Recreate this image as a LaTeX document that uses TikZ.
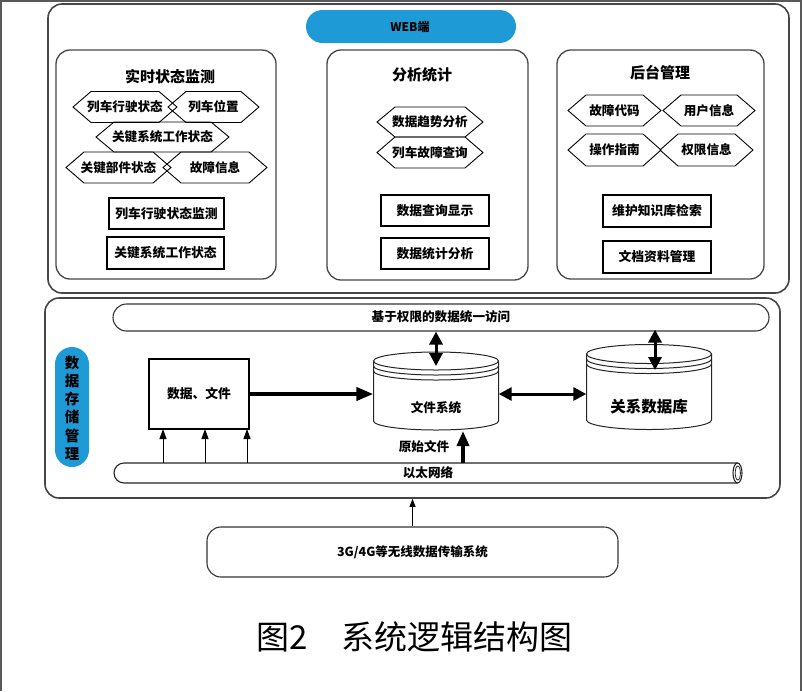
\documentclass[tikz,border=0pt]{standalone}
\usepackage{fontspec}
\setmainfont{Noto Sans CJK SC}
\usetikzlibrary{arrows.meta}
\definecolor{pillblue}{RGB}{30,155,214}
\definecolor{edge}{RGB}{70,70,70}
\tikzset{
  bigbox/.style={draw=edge, line width=1.6pt, rounded corners=14pt, inner sep=0pt},
  subbox/.style={draw=edge, line width=1.3pt, rounded corners=14pt, inner sep=0pt},
  rbox/.style={draw=black, line width=1.1pt, inner sep=0pt, font=\fontsize{12.8}{15}\selectfont\bfseries},
  hexline/.style={draw=black, line width=0.9pt},
  lbl/.style={font=\fontsize{12.6}{15}\selectfont\bfseries, inner sep=0pt},
  ttl/.style={font=\fontsize{15}{18}\selectfont\bfseries, inner sep=0pt},
  pill/.style={fill=pillblue, draw=none, inner sep=0pt},
  ghost/.style={inner sep=0pt, draw=none},
  cylline/.style={draw=black!85, line width=1pt},
  thinarrow/.style={draw=black, line width=1pt, -{Triangle[length=10pt,width=7pt]}},
  fatarrow/.style={draw=black, line width=4pt, -{Triangle[length=17pt,width=13pt]}},
  dblarrow/.style={draw=black, line width=3pt, {Triangle[length=13pt,width=13pt]}-{Triangle[length=13pt,width=13pt]}},
}
\newcommand\hexnode[6]{%
  \draw[hexline] (#2-#4,#3) -- (#2-#4+18,#3-#5) -- (#2+#4-18,#3-#5) -- (#2+#4,#3)
    -- (#2+#4-18,#3+#5) -- (#2-#4+18,#3+#5) -- cycle;
  \node[lbl] (#1) at (#2,#3) {#6};}
\newcommand\cylshape[4]{% cx, top centre y, bottom centre y, ry
  \fill[white] (#1-62.5,#2) -- (#1-62.5,#3) arc (180:0:62.5 and #4) -- (#1+62.5,#2) arc (0:180:62.5 and #4) -- cycle;
  \draw[cylline] (#1-62.5,#2) -- (#1-62.5,#3) arc (180:0:62.5 and #4) -- (#1+62.5,#2);
  \draw[cylline] (#1,#2) ellipse (62.5 and #4);
  \draw[cylline] (#1-62.5,#2+5) arc (180:0:62.5 and #4);
  \draw[cylline] (#1-62.5,#2+10) arc (180:0:62.5 and #4);}
\begin{document}
\begin{tikzpicture}[x=1pt,y=-1pt]
\useasboundingbox (0,0) rectangle (802,691);
\fill[white] (0,0) rectangle (802,691);
\draw[line width=2pt, black!65] (1,691) -- (1,1) -- (801,1) -- (801,691);

% ---------- WEB part ----------
\node[bigbox, minimum width=741pt, minimum height=289pt] (web) at (418.5,148.5) {};
\node[pill, rounded corners=16.5pt, minimum width=210pt, minimum height=33pt] (webpill) at (411,26.5) {};
\node[lbl, font=\fontsize{12}{14}\selectfont\bfseries] (webtxt) at (410,26.5) {WEB端};

\node[subbox, minimum width=220pt, minimum height=229pt] (b1) at (166,164.5) {};
\node[subbox, minimum width=201pt, minimum height=230pt] (b2) at (427.5,165) {};
\node[subbox, minimum width=207pt, minimum height=229pt] (b3) at (660.5,164.5) {};

\node[ttl] (t1) at (170,77) {实时状态监测};
\node[ttl] (t2) at (422,75) {分析统计};
\node[ttl] (t3) at (660,73) {后台管理};

\hexnode{h1}{125}{107}{52}{15.5}{列车行驶状态}
\hexnode{h2}{213.5}{107}{45.5}{15.5}{列车位置}
\hexnode{h3}{162.5}{137}{66.5}{15}{关键系统工作状态}
\hexnode{h4}{118.5}{167.5}{52.5}{15.5}{关键部件状态}
\hexnode{h5}{215}{167.5}{52}{15.5}{故障信息}

\hexnode{h6}{430}{122}{53}{15}{数据趋势分析}
\hexnode{h7}{430}{152.5}{53}{15.5}{列车故障查询}

\hexnode{h8}{614.5}{110.5}{46.5}{15.5}{故障代码}
\hexnode{h9}{709}{110.5}{46}{15.5}{用户信息}
\hexnode{h10}{614.5}{150}{46.5}{16}{操作指南}
\hexnode{h11}{706.5}{150}{46.5}{16}{权限信息}

\node[rbox, minimum width=115pt, minimum height=31pt] (r1) at (166.5,213.5) {列车行驶状态监测};
\node[rbox, minimum width=117pt, minimum height=32pt] (r2) at (165.5,253) {关键系统工作状态};
\node[rbox, minimum width=108pt, minimum height=31pt] (r3) at (435,210.5) {数据查询显示};
\node[rbox, minimum width=108pt, minimum height=31pt] (r4) at (435,253.5) {数据统计分析};
\node[rbox, minimum width=108pt, minimum height=32pt] (r5) at (657,211) {维护知识库检索};
\node[rbox, minimum width=108pt, minimum height=32pt] (r6) at (657,257) {文档资料管理};

% ---------- storage part ----------
\node[bigbox, minimum width=735pt, minimum height=200pt] (store) at (412.5,398) {};
\node[pill, rounded corners=17pt, minimum width=34pt, minimum height=120pt] (storepill) at (72,407) {};
\node[inner sep=0pt, align=center, font=\fontsize{14.5}{18.2}\selectfont\bfseries] (storetxt) at (72,408) {数\\据\\存\\储\\管\\理};

\node[draw=black!80, line width=1.1pt, rounded corners=13.5pt, minimum width=656pt, minimum height=27pt, inner sep=0pt] (access) at (441,317.5) {};
\node[lbl] (accesstxt) at (441,317) {基于权限的数据统一访问};

\node[rbox, minimum width=100pt, minimum height=70pt] (df) at (199,394) {数据、文件};

% ethernet tube
\draw[draw=black!85, line width=1.1pt, rounded corners=10pt] (737.5,463) -- (114,463) -- (114,483) -- (737.5,483);
\draw[draw=black!85, line width=1.1pt] (737.5,473) ellipse (4.5 and 10);
\draw[draw=black!85, line width=0.8pt] (737.8,473) ellipse (2.6 and 7);
\node[ghost, minimum width=626pt, minimum height=20pt] (eth) at (426,473) {};
\node[lbl] (ethtxt) at (428,473) {以太网络};

% cylinders
\cylshape{436}{361}{421}{9}
\cylshape{649}{354}{420}{9.5}
\node[ghost, minimum width=125pt, minimum height=79pt] (fs) at (436,391) {};
\node[ghost, minimum width=125pt, minimum height=86pt] (db) at (649,387) {};
\node[lbl] (fstxt) at (436,408) {文件系统};
\node[ttl, font=\fontsize{15.5}{18}\selectfont\bfseries] (dbtxt) at (649,407) {关系数据库};
\node[lbl] (rawtxt) at (424,447) {原始文件};

\coordinate (fsin) at (436,366);
\coordinate (dbin) at (655,370);
\coordinate (fsup) at (463,431);
\coordinate (a1) at (163,429);
\coordinate (a2) at (205,429);
\coordinate (a3) at (247,429);

\draw[fatarrow] (df.east) -- (df.east -| fs.west);
\draw[dblarrow] (access.south -| fsin) -- (fsin);
\draw[dblarrow] ([yshift=2pt]access.south -| dbin) -- (dbin);
\draw[dblarrow] ([yshift=-3pt]fs.east) -- ([yshift=-3pt]fs.east -| db.west);
\draw[fatarrow, line width=3.5pt, -{Triangle[length=15pt,width=12pt]}] (eth.north -| fsup) -- (fsup);
\draw[thinarrow] (eth.north -| a1) -- (a1);
\draw[thinarrow] (eth.north -| a2) -- (a2);
\draw[thinarrow] (eth.north -| a3) -- (a3);

% ---------- wireless ----------
\node[draw=black!80, line width=1.1pt, rounded corners=14pt, minimum width=411pt, minimum height=50pt, inner sep=0pt, font=\fontsize{12.5}{14}\selectfont\bfseries] (g3) at (412.5,552) {\raisebox{-4pt}{3G/4G等无线数据传输系统}};
\draw[thinarrow, line width=0.9pt, -{Triangle[length=8pt,width=6pt]}] (g3.north) -- (store.south);

% ---------- caption ----------
\node[anchor=west, inner sep=0pt, font=\fontsize{33}{38}\selectfont] (caption) at (256,637) {图2\hspace{34pt}系统逻辑结构图};
\end{tikzpicture}
\end{document}
